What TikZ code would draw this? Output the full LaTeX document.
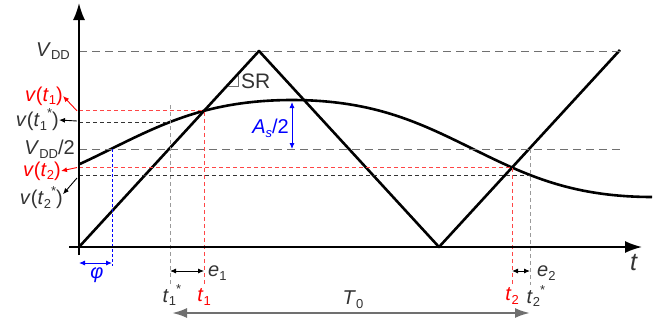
\documentclass[tikz,border=0pt]{standalone}
\usepackage{fontspec}
\setmainfont{Liberation Sans}
\usepackage{xcolor}
\usetikzlibrary{arrows.meta, intersections}
\definecolor{txtgray}{HTML}{333333}
\definecolor{levelgray}{HTML}{707070}
\definecolor{guidegray}{HTML}{9A9A9A}
\definecolor{lred}{HTML}{FF4646}
\newcommand{\sbx}[1]{\raisebox{-0.35ex}{\fontsize{13}{13}\selectfont #1}}
\newcommand{\spx}[1]{\raisebox{0.85ex}{\fontsize{13}{13}\selectfont #1}}
\newcommand{\sigy}[1]{148.5-50.5*cos((#1-292)*0.5)+2*cos(1.5*(#1-292))}

\begin{document}
\begin{tikzpicture}[
  x=1pt, y=-1pt,
  lbl/.style={inner sep=0pt, text=txtgray, font=\fontsize{20}{22}\selectfont},
  wave/.style={line width=2.6pt, line join=round},
  axis/.style={line width=1.8pt, -{Latex[length=17pt,width=12pt]}},
  level/.style={levelgray, line width=0.9pt, dash pattern=on 8pt off 5pt},
  guide/.style={line width=0.9pt, dash pattern=on 4pt off 3pt},
  tip/.style={-{Latex[length=6pt,width=5pt]}, line width=0.9pt},
  span/.style={{Latex[length=6pt,width=5pt]}-{Latex[length=6pt,width=5pt]}, line width=0.9pt}
]
  \useasboundingbox (0,0) rectangle (672,322);

  \coordinate (origin) at (79,247);
  \coordinate (ybot) at (79,255);
  \coordinate (ytop) at (79,3);
  \coordinate (xleft) at (69,247);
  \coordinate (xright) at (642,247);
  \coordinate (peakA) at (259,51);
  \coordinate (valley) at (439,247);
  \coordinate (peakB) at (620,50);
  \coordinate (vddR) at (620,51);
  \coordinate (midR) at (620,149);
  \coordinate (cross0) at (112,149);
  \coordinate (cross1s) at (170,{\sigy{170}});
  \coordinate (cross2s) at (530,{\sigy{530}});
  \coordinate (ampTop) at (292,102);
  \coordinate (foot) at (0,285);

  % signals
  \draw[wave, name path=sig] plot[domain=79:652, samples=120, variable=\t] (\t,{\sigy{\t}});
  \draw[wave, name path=tri] (origin) -- (peakA) -- (valley) -- (peakB);
  \path[name intersections={of=sig and tri, name=ix, sort by=sig}];
  \coordinate (cross1) at (ix-1);
  \coordinate (cross2) at (ix-3);

  % reference levels
  \draw[level] (origin |- vddR) -- (vddR);
  \draw[level] (origin |- midR) -- (midR);

  % guide lines
  \draw[guide, lred] (origin |- cross1) -- (cross1) -- (cross1 |- foot);
  \draw[guide, txtgray] (origin |- cross1s) -- (cross1s);
  \draw[guide, guidegray] (170,105) -- (cross1s |- foot);
  \draw[guide, lred] (origin |- cross2) -- (cross2) -- (cross2 |- foot);
  \draw[guide, txtgray] (origin |- cross2s) -- (cross2s);
  \draw[guide, guidegray] (cross2s |- midR) -- (cross2s |- foot);
  \draw[guide, blue, dash pattern=on 3pt off 2pt] (cross0) -- (112,266);

  % axes
  \draw[axis] (xleft) -- (xright);
  \draw[axis] (ybot) -- (ytop);

  % slope mark
  \draw[levelgray, line width=0.8pt] (228,86) -- (238,86) -- (238,75);
  \node[lbl, anchor=west, font=\fontsize{21}{21}\selectfont] (sr) at (241,81) {SR};

  % amplitude
  \draw[span, blue] (ampTop) -- (ampTop |- midR);
  \node[lbl, anchor=east, text=blue] (amp) at (289,128) {\textit{A}\sbx{\textit{s}}/2};

  % left labels
  \node[lbl, anchor=east] (vdd) at (70,51) {\textit{V}\sbx{DD}};
  \node[lbl, anchor=east, text=red] (vt1) at (63,96) {\textit{v}(\textit{t}\sbx{1})};
  \node[lbl, anchor=east] (vt1s) at (59,120) {\textit{v}(\textit{t}\sbx{1}\spx{*})};
  \node[lbl, anchor=east] (vdd2) at (75,149) {\textit{V}\sbx{DD}/2};
  \node[lbl, anchor=east, text=red] (vt2) at (61,171) {\textit{v}(\textit{t}\sbx{2})};
  \node[lbl, anchor=east] (vt2s) at (63,198) {\textit{v}(\textit{t}\sbx{2}\spx{*})};

  \draw[tip, red] (origin |- cross1) ++(-2,0) -- (vt1.east);
  \draw[tip] (77,121) -- (vt1s.east);
  \draw[tip, red] (origin |- cross2) ++(-2,0) -- (vt2.east);
  \draw[tip] (77,178) -- (vt2s.10);

  % bottom labels
  \draw[span, blue] (origin |- 0,263) -- (cross0 |- 0,263);
  \node[lbl, text=blue] (phi) at (97,275) {\textit{φ}};
  \draw[span] (cross1s |- 0,271) -- (cross1 |- 0,271);
  \node[lbl, anchor=west] (e1) at (208,273) {\textit{e}\sbx{1}};
  \draw[span] (cross2 |- 0,271) -- (cross2s |- 0,271);
  \node[lbl, anchor=west] (e2) at (537,273) {\textit{e}\sbx{2}};
  \node[lbl] (t1s) at (172,295) {\textit{t}\sbx{1}\spx{*}};
  \node[lbl, text=red] (t1) at (cross1 |- 0,297) {\textit{t}\sbx{1}};
  \node[lbl, text=red] (t2) at (cross2 |- 0,296) {\textit{t}\sbx{2}};
  \node[lbl] (t2s) at (536,296) {\textit{t}\sbx{2}\spx{*}};
  \node[lbl] (T0) at (353,300) {\textit{T}\sbx{0}};
  \node[lbl, font=\fontsize{25}{25}\selectfont] (taxis) at (634,263) {\textit{t}};
  \draw[levelgray, line width=2.2pt, {Latex[length=15pt,width=10pt]}-{Latex[length=15pt,width=10pt]}]
    (172,313) -- (cross2s |- 0,313);
\end{tikzpicture}
\end{document}
